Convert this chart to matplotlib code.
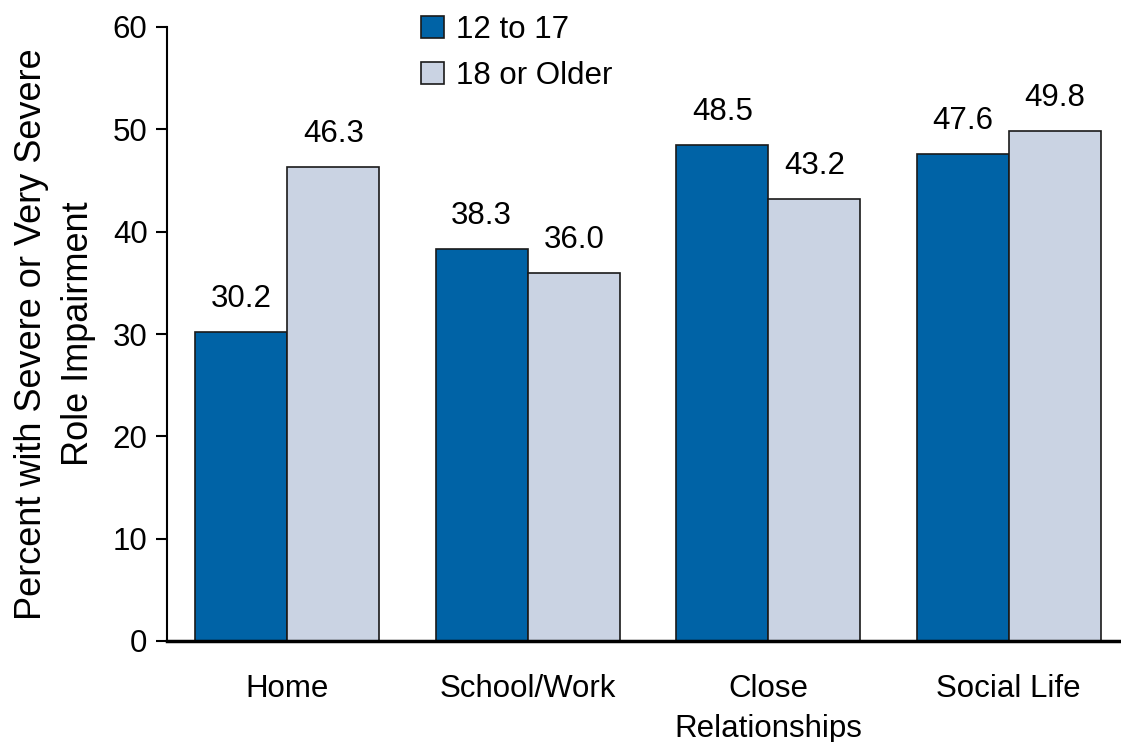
import matplotlib
matplotlib.use("Agg")
import matplotlib.pyplot as plt
import numpy as np

categories = ["Home", "School/Work", "Close\nRelationships", "Social Life"]
series_names = ["12 to 17", "18 or Older"]
youth = [30.2, 38.3, 48.5, 47.6]
adult = [46.3, 36.0, 43.2, 49.8]
colors = ["#0063A6", "#CAD3E3"]

plt.rcParams['font.family'] = ['Liberation Sans', 'DejaVu Sans']
fig = plt.figure(figsize=(11.21, 7.42), dpi=100)
ax = fig.add_axes([167/1121, 1 - 641/742, (1129-167)/1121, (641-27)/742])

x = np.arange(len(categories))
w = 0.383
for vals, off, c, name in [(youth, -w/2, colors[0], series_names[0]), (adult, w/2, colors[1], series_names[1])]:
    bars = ax.bar(x + off, vals, w, color=c, edgecolor="#1a1a1a", linewidth=1.2, label=name)
    for b, v in zip(bars, vals):
        ax.annotate(f"{v:.1f}", (b.get_x() + b.get_width()/2, v), xytext=(0, 13),
                    textcoords="offset points", ha="center", va="bottom", fontsize=22.5)

ax.set_xlim(-0.5, 3.5)
ax.set_ylim(0, 60)
ax.set_yticks(range(0, 61, 10))
ax.set_xticks(x)
ax.set_xticklabels(categories, fontsize=22.5, linespacing=1.4)
ax.tick_params(axis='x', length=0, pad=24)
ax.tick_params(axis='y', labelsize=22.5, length=8, width=1.5, direction='out', pad=6)
for s in ["top", "right"]:
    ax.spines[s].set_visible(False)
ax.spines["left"].set_linewidth(1.5)
ax.spines["bottom"].set_linewidth(2.5)
ax.set_ylabel("Percent with Severe or Very Severe\nRole Impairment", fontsize=26, labelpad=12, linespacing=1.45)

leg = ax.legend(loc="upper left", bbox_to_anchor=(0.235, 1.066), frameon=False, fontsize=22.5,
                handlelength=0.72, handleheight=0.72, handletextpad=0.4, labelspacing=0.52)

fig.savefig("out.png", dpi=100)
